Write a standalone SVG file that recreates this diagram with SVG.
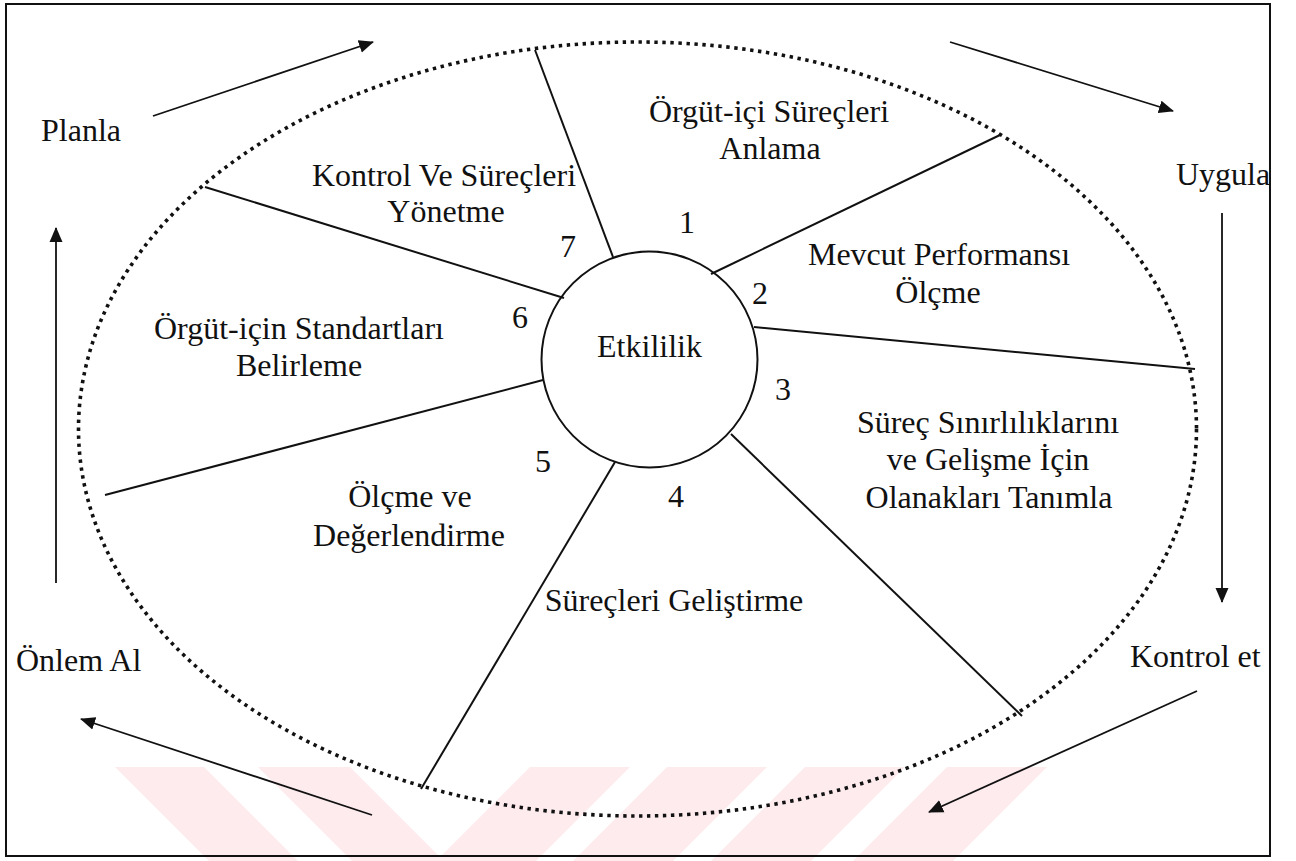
<svg xmlns="http://www.w3.org/2000/svg" width="1296" height="861" viewBox="0 0 1296 861">
  <style>
    text { font-family: "Liberation Serif", "DejaVu Serif", serif; font-size: 32px; fill: #111; }
    .c { text-anchor: middle; }
    .spoke { stroke: #111; stroke-width: 2; fill: none; }
    .flow { stroke: #111; stroke-width: 1.8; fill: none; marker-end: url(#head); }
    .orbit { stroke: #111; stroke-width: 3.6; fill: none; stroke-dasharray: 3.4 4.6; }
    .wm { fill: #fdebee; }
  </style>
  <defs>
    <marker id="head" markerUnits="userSpaceOnUse" markerWidth="15" markerHeight="14" refX="14" refY="7" orient="auto">
      <path d="M0,0.5 L15,7 L0,13.5 Z" fill="#111"/>
    </marker>
  </defs>

  <rect width="1296" height="861" fill="#fff"/>

  <!-- faint background stripes along the lower edge -->
  <g id="stripes">
    <polygon class="wm" points="115,767 204,767 298,861 209,861"/>
    <polygon class="wm" points="258,767 350,767 444,861 352,861"/>
    <polygon class="wm" points="530,767 630,767 536,861 436,861"/>
    <polygon class="wm" points="667,767 767,767 673,861 573,861"/>
    <polygon class="wm" points="805,767 905,767 811,861 711,861"/>
    <polygon class="wm" points="947,767 1047,767 953,861 853,861"/>
  </g>

  <!-- frame -->
  <rect x="6" y="4" width="1264" height="852" fill="none" stroke="#111" stroke-width="2"/>

  <!-- dotted outer boundary -->
  <ellipse id="boundary" class="orbit" cx="637.5" cy="429" rx="559" ry="387"/>

  <g id="connectors">
    <!-- spokes separating the seven steps -->
    <line class="spoke" x1="535" y1="50" x2="613" y2="257"/>
    <line class="spoke" x1="1000" y1="135" x2="711" y2="274"/>
    <line class="spoke" x1="1195" y1="369" x2="754" y2="327"/>
    <line class="spoke" x1="1022" y1="716" x2="731" y2="434"/>
    <line class="spoke" x1="421" y1="789" x2="615" y2="462"/>
    <line class="spoke" x1="105" y1="495" x2="543" y2="380"/>
    <line class="spoke" x1="205" y1="187" x2="564" y2="298"/>
    <!-- plan-do-check-act cycle arrows -->
    <line class="flow" x1="153" y1="116" x2="373" y2="42"/>
    <line class="flow" x1="950" y1="42" x2="1173" y2="111"/>
    <line class="flow" x1="1222" y1="213" x2="1222" y2="602"/>
    <line class="flow" x1="1197" y1="691" x2="929" y2="812"/>
    <line class="flow" x1="372" y1="815" x2="81" y2="719"/>
    <line class="flow" x1="56" y1="583" x2="56" y2="228"/>
  </g>

  <g id="hub">
    <circle cx="649.5" cy="359.5" r="108" fill="none" stroke="#111" stroke-width="2"/>
    <text class="c" x="649.5" y="357">Etkililik</text>
  </g>

  <g id="step1">
    <text class="c" x="769" y="122">Örgüt-içi Süreçleri</text>
    <text class="c" x="770" y="159">Anlama</text>
    <text class="c" x="687" y="233">1</text>
  </g>
  <g id="step2">
    <text class="c" x="939" y="265">Mevcut Performansı</text>
    <text class="c" x="938" y="303">Ölçme</text>
    <text class="c" x="760" y="304">2</text>
  </g>
  <g id="step3">
    <text class="c" x="988" y="433">Süreç Sınırlılıklarını</text>
    <text class="c" x="988" y="470">ve Gelişme İçin</text>
    <text class="c" x="989" y="508">Olanakları Tanımla</text>
    <text class="c" x="783" y="400">3</text>
  </g>
  <g id="step4">
    <text class="c" x="674" y="611">Süreçleri Geliştirme</text>
    <text class="c" x="676" y="507">4</text>
  </g>
  <g id="step5">
    <text class="c" x="410" y="507">Ölçme ve</text>
    <text class="c" x="409" y="546">Değerlendirme</text>
    <text class="c" x="543" y="472">5</text>
  </g>
  <g id="step6">
    <text class="c" x="299" y="339">Örgüt-için Standartları</text>
    <text class="c" x="299" y="376">Belirleme</text>
    <text class="c" x="520" y="328">6</text>
  </g>
  <g id="step7">
    <text class="c" x="444" y="186">Kontrol Ve Süreçleri</text>
    <text class="c" x="446" y="222">Yönetme</text>
    <text class="c" x="568" y="257">7</text>
  </g>

  <g id="stage-plan"><text x="41" y="141">Planla</text></g>
  <g id="stage-do"><text x="1176" y="185">Uygula</text></g>
  <g id="stage-check"><text x="1130" y="667">Kontrol et</text></g>
  <g id="stage-act"><text x="16" y="671">Önlem Al</text></g>
</svg>
